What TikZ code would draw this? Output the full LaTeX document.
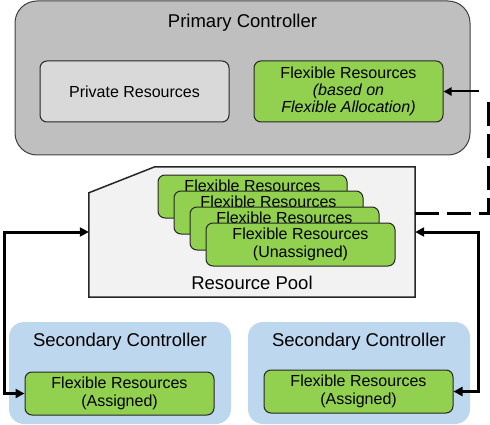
\documentclass[tikz,border=0pt]{standalone}
\usepackage{fontspec}
\setmainfont{Liberation Sans}
\usetikzlibrary{arrows.meta,positioning}

\definecolor{ctrlgray}{HTML}{BFBFBF}
\definecolor{privgray}{HTML}{D9D9D9}
\definecolor{flexgreen}{HTML}{92D050}
\definecolor{poolgray}{HTML}{F2F2F2}
\definecolor{secblue}{HTML}{BDD7EE}
\definecolor{edgegray}{HTML}{404040}

\tikzset{
  ctrl/.style={draw=edgegray,fill=ctrlgray,line width=1pt,rounded corners=22pt},
  sec/.style={fill=secblue,rounded corners=15pt,minimum width=222pt,minimum height=102pt},
  res/.style={draw=black!85,line width=1pt,rounded corners=7pt,minimum width=189pt,
    align=center,font=\fontsize{16}{18}\selectfont},
  title/.style={font=\fontsize{18.5}{22}\selectfont},
  link/.style={line width=3pt,{Triangle[length=9pt,width=9pt]}-{Triangle[length=9pt,width=9pt]}},
  dashlink/.style={line width=3pt,dash pattern=on 24pt off 8pt},
  ptr/.style={line width=2pt,-{Triangle[length=8pt,width=8pt]}}
}

\begin{document}
\begin{tikzpicture}[x=1pt,y=-1pt,every node/.style={inner sep=0pt}]
\useasboundingbox (0,0) rectangle (490,425);

% primary controller
\node[ctrl,minimum width=455pt,minimum height=154pt] (primary) at (242.5,78) {};
\node[title] (ptitle) at (242.5,23) {Primary Controller};
\node[res,fill=privgray,minimum height=61pt] (private) at (134.5,91.5) {Private Resources};
\node[res,fill=flexgreen,minimum height=61pt,right=24pt of private,
  font=\fontsize{16}{17}\selectfont] (flexalloc)
  {Flexible Resources\\\textit{(based on}\\\textit{Flexible Allocation)}};

% resource pool
\node[minimum width=326pt,minimum height=130pt] (pool) at (252,232) {};
\draw[line width=1.5pt,draw=black!85,fill=poolgray]
  (pool.south west) -- ([yshift=-26pt]pool.north west) -- ([xshift=66pt]pool.north west)
  -- (pool.north east) -- (pool.south east) -- cycle;
\foreach \i in {1,2,3}
  \node[res,fill=flexgreen,minimum height=43pt] (free\i)
    at ({252.5+16*(\i-1)},{196.5+16*(\i-1)}) {Flexible Resources\\\phantom{(Unassigned)}};
\node[res,fill=flexgreen,minimum height=43pt] (free4) at (300.5,244.5) {Flexible Resources\\(Unassigned)};
\node[title] (pooltitle) at (252,283) {Resource Pool};

% secondary controllers
\node[sec] (secL) at (120,373) {};
\node[title] (stitleL) at (120,342) {Secondary Controller};
\node[res,fill=flexgreen,minimum height=43pt] (assignL) at (119.5,393.5) {Flexible Resources\\(Assigned)};
\node[sec] (secR) at (359,373) {};
\node[title] (stitleR) at (359,342) {Secondary Controller};
\node[res,fill=flexgreen,minimum height=43pt] (assignR) at (358.5,391.5) {Flexible Resources\\(Assigned)};

% connectors
\coordinate (lbus) at (4,0);
\coordinate (rbus) at (478,0);
\coordinate (dbus) at (488,0);
\coordinate (dstart) at ([yshift=19pt]pool.east);
\draw[link] (pool.west) -- (pool.west -| lbus) -- (lbus |- assignL.west) -- (assignL.west);
\draw[link] (pool.east) -- (pool.east -| rbus) -- (rbus |- assignR.east) -- (assignR.east);
\draw[dashlink] (dstart) -- (dstart -| dbus) -- ([yshift=-3pt]dbus |- flexalloc.east);
\draw[ptr,shorten <=9pt] (dbus |- flexalloc.east) -- (flexalloc.east);
\end{tikzpicture}
\end{document}
